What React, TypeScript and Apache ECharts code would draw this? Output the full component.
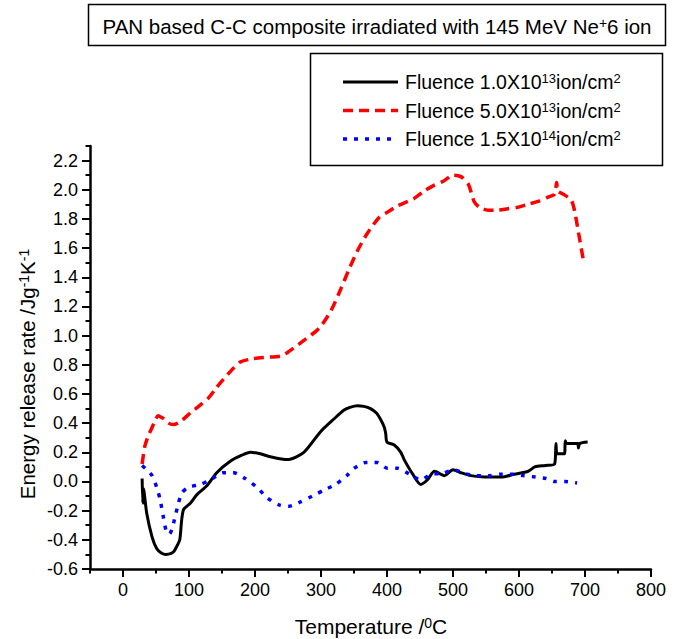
import React, { useEffect, useRef } from "react";
import * as echarts from "echarts";

const blackT = [29, 30, 31, 36, 44, 51, 58, 65, 72, 77, 82, 86, 89, 92, 102, 112, 127, 142, 163, 180, 193, 208, 223, 249, 274, 299, 320, 335, 345, 355, 365, 375, 384, 391, 396, 398, 400, 411, 421, 426, 439, 451, 461, 472, 487, 500, 512, 527, 548, 573, 593, 614, 624, 640, 654, 656, 658, 669, 670, 672, 689, 690, 692, 704];
const blackE = [0.02, -0.15, -0.05, -0.22, -0.38, -0.46, -0.49, -0.5, -0.495, -0.48, -0.44, -0.4, -0.26, -0.19, -0.15, -0.09, -0.03, 0.06, 0.14, 0.18, 0.2, 0.19, 0.17, 0.15, 0.2, 0.34, 0.43, 0.49, 0.51, 0.52, 0.515, 0.5, 0.47, 0.42, 0.37, 0.33, 0.27, 0.25, 0.2, 0.15, 0.05, -0.02, 0.01, 0.07, 0.04, 0.08, 0.06, 0.04, 0.03, 0.03, 0.05, 0.07, 0.1, 0.11, 0.12, 0.26, 0.19, 0.19, 0.28, 0.26, 0.26, 0.23, 0.26, 0.27];

const redT = [29, 33, 38, 43, 48, 53, 58, 62, 69, 76, 87, 102, 116, 129, 141, 152, 158, 168, 178, 195, 213, 239, 251, 272, 297, 315, 330, 342, 355, 370, 388, 402, 416, 441, 456, 471, 486, 500, 512, 523, 532, 540, 553, 568, 583, 598, 613, 629, 644, 654, 657, 659, 667, 679, 684, 690, 697];
const redE = [0.12, 0.24, 0.31, 0.36, 0.41, 0.45, 0.44, 0.43, 0.4, 0.39, 0.41, 0.47, 0.52, 0.57, 0.64, 0.7, 0.73, 0.78, 0.82, 0.84, 0.85, 0.86, 0.89, 0.96, 1.05, 1.17, 1.32, 1.45, 1.58, 1.7, 1.81, 1.85, 1.89, 1.94, 1.99, 2.03, 2.06, 2.1, 2.09, 2.04, 1.92, 1.88, 1.86, 1.86, 1.87, 1.88, 1.9, 1.92, 1.95, 1.97, 2.05, 1.99, 1.97, 1.93, 1.86, 1.71, 1.53];

const blueT = [29, 36, 44, 51, 56, 61, 66, 70, 74, 79, 84, 89, 99, 117, 132, 152, 168, 185, 203, 218, 236, 251, 269, 287, 304, 322, 339, 350, 368, 385, 401, 416, 434, 451, 467, 484, 501, 517, 535, 555, 573, 591, 608, 625, 641, 653, 670, 688];
const blueE = [0.11, 0.08, 0.04, -0.04, -0.12, -0.24, -0.35, -0.36, -0.33, -0.24, -0.15, -0.08, -0.04, -0.02, 0.01, 0.06, 0.06, 0.02, -0.04, -0.11, -0.16, -0.17, -0.14, -0.1, -0.06, -0.02, 0.04, 0.09, 0.13, 0.13, 0.09, 0.09, 0.05, 0.01, 0.05, 0.055, 0.08, 0.055, 0.04, 0.04, 0.05, 0.05, 0.04, 0.03, 0.02, 0.0, 0.0, -0.01];

const xMajor = [0, 100, 200, 300, 400, 500, 600, 700, 800];
const xMinor = [-50, 50, 150, 250, 350, 450, 550, 650, 750];
const yMajor = [-0.6, -0.4, -0.2, 0.0, 0.2, 0.4, 0.6, 0.8, 1.0, 1.2, 1.4, 1.6, 1.8, 2.0, 2.2];
const yMinor = [-0.5, -0.3, -0.1, 0.1, 0.3, 0.5, 0.7, 0.9, 1.1, 1.3, 1.5, 1.7, 1.9, 2.1, 2.3];

const legendNames = ["1.0X10{s|13}ion/cm{s|2}", "5.0X10{s|13}ion/cm{s|2}", "1.5X10{s|14}ion/cm{s|2}"];

const FONT = "Liberation Sans, Arial, sans-serif";

const zip = (a: number[], b: number[]) => a.map((v, i) => [v, b[i]]);

export default function App() {
  const ref = useRef<HTMLDivElement>(null);
  useEffect(() => {
    if (!ref.current) return;
    const chart = echarts.init(ref.current, null, { renderer: "svg" });
    const sup = (size: number) => ({ fontSize: Math.round(size * 0.66), fontFamily: FONT, fill: "#000", verticalAlign: "top", lineHeight: Math.round(size * 0.66) });
    const axisLineStyle = { show: true, onZero: false, lineStyle: { color: "#000", width: 2.5 } };
    const legendRows = [
      { y: 82, color: "#000", type: "solid" as any, width: 3 },
      { y: 110.5, color: "#ff0000", type: [10, 6] as any, width: 3.5 },
      { y: 139, color: "#0000ff", type: [4, 7] as any, width: 3.5 },
    ];
    const graphic: any[] = [
      { type: "rect", z: 100, shape: { x: 88.5, y: 4.5, width: 577, height: 41 }, style: { fill: "#fff", stroke: "#000", lineWidth: 1.5 } },
      {
        type: "text", z: 101, x: 377, y: 26,
        style: { text: "PAN based C-C composite irradiated with 145 MeV Ne{s|+}6 ion", rich: { s: sup(20.5) }, fontSize: 20.5, fontFamily: FONT, fill: "#000", align: "center", verticalAlign: "middle" },
      },
      { type: "rect", z: 100, shape: { x: 310.5, y: 53.5, width: 352, height: 112 }, style: { fill: "#fff", stroke: "#000", lineWidth: 1.5 } },
      {
        type: "text", z: 101, x: 371, y: 626,
        style: { text: "Temperature /{s|0}C", rich: { s: sup(21) }, fontSize: 21, fontFamily: FONT, fill: "#000", align: "center", verticalAlign: "middle" },
      },
      {
        type: "text", z: 101, x: 27, y: 374, rotation: Math.PI / 2,
        style: { text: "Energy release rate /Jg{s|-1}K{s|-1}", rich: { s: sup(20.5) }, fontSize: 20.5, fontFamily: FONT, fill: "#000", align: "center", verticalAlign: "middle" },
      },
    ];
    legendRows.forEach((r, i) => {
      graphic.push({ type: "line", z: 101, shape: { x1: 343, y1: r.y, x2: 398, y2: r.y }, style: { stroke: r.color, lineWidth: r.width, lineDash: r.type === "solid" ? null : r.type } });
      graphic.push({
        type: "text", z: 101, x: 405, y: r.y,
        style: { text: "Fluence " + legendNames[i], rich: { s: sup(19.5) }, fontSize: 19.5, fontFamily: FONT, fill: "#000", align: "left", verticalAlign: "middle" },
      });
    });

    chart.setOption({
      animation: false,
      backgroundColor: "#fff",
      grid: { left: 90, right: 24, top: 146, bottom: 70, containLabel: false, outerBoundsMode: "none" },
      xAxis: [
        {
          type: "value", min: -50, max: 800, interval: 50,
          axisLine: axisLineStyle, splitLine: { show: false },
          axisTick: { show: true, inside: false, length: 8, lineStyle: { color: "#000", width: 2 }, customValues: xMajor },
          axisLabel: { show: true, customValues: xMajor, color: "#000", fontSize: 18, fontFamily: FONT, margin: 12 },
        },
        {
          type: "value", min: -50, max: 800, interval: 50, position: "bottom",
          axisLine: { show: false, onZero: false }, splitLine: { show: false },
          axisTick: { show: true, length: 4.5, lineStyle: { color: "#000", width: 2 }, customValues: xMinor },
          axisLabel: { show: false },
        },
      ],
      yAxis: [
        {
          type: "value", min: -0.6, max: 2.3, interval: 0.1,
          axisLine: axisLineStyle, splitLine: { show: false },
          axisTick: { show: true, inside: false, length: 8, lineStyle: { color: "#000", width: 2 }, customValues: yMajor },
          axisLabel: { show: true, customValues: yMajor, color: "#000", fontSize: 18, fontFamily: FONT, margin: 12, formatter: (v: number) => v.toFixed(1) },
        },
        {
          type: "value", min: -0.6, max: 2.3, interval: 0.1, position: "left",
          axisLine: { show: false, onZero: false }, splitLine: { show: false },
          axisTick: { show: true, length: 4.5, lineStyle: { color: "#000", width: 2 }, customValues: yMinor },
          axisLabel: { show: false },
        },
      ],
      series: [
        { type: "line", name: "Fluence 1.0", data: zip(blackT, blackE), showSymbol: false, smooth: 0.25, lineStyle: { color: "#000", width: 3, type: "solid" }, z: 2 },
        { type: "line", name: "Fluence 5.0", data: zip(redT, redE), showSymbol: false, smooth: 0.25, lineStyle: { color: "#ff0000", width: 3.5, type: [10, 6] }, z: 3 },
        { type: "line", name: "Fluence 1.5", data: zip(blueT, blueE), showSymbol: false, smooth: 0.25, lineStyle: { color: "#0000ff", width: 3.5, type: [4, 7] }, z: 4 },
      ],
      graphic,
    });
    return () => chart.dispose();
  }, []);
  return <div ref={ref} style={{ position: "absolute", left: 0, top: 0, width: 675, height: 639 }} />;
}
